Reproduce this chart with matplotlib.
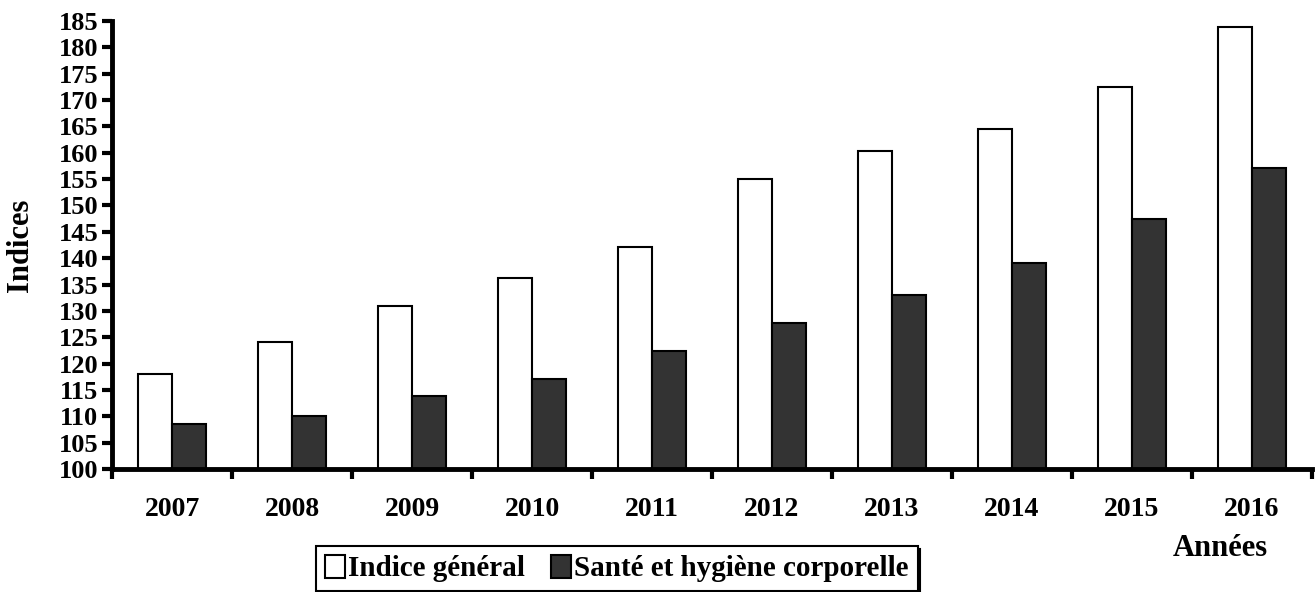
import numpy as np
import matplotlib
matplotlib.use('Agg')
import matplotlib.pyplot as plt

years = ['2007', '2008', '2009', '2010', '2011', '2012', '2013', '2014', '2015', '2016']
indice_general = [118.1, 124.0, 130.9, 136.3, 142.1, 155.0, 160.3, 164.6, 172.5, 183.8]
sante_hygiene = [108.5, 110.1, 113.8, 117.0, 122.4, 127.7, 133.1, 139.0, 147.5, 157.2]
y_ticks = list(range(100, 190, 5))

plt.rcParams['font.family'] = ['Liberation Serif', 'DejaVu Serif']
plt.rcParams['font.weight'] = 'bold'

fig = plt.figure(figsize=(13.15, 5.92), dpi=100)
ax = fig.add_axes([0.0852, 0.2078, 0.9125, 0.7567])

x = np.arange(len(years)) + 0.5
w = 0.283
ax.bar(x - w / 2, np.array(indice_general) - 100, w, bottom=100,
       color='white', edgecolor='black', linewidth=1.5, label='Indice général')
ax.bar(x + w / 2, np.array(sante_hygiene) - 100, w, bottom=100,
       color='#333333', edgecolor='black', linewidth=1.5,
       label='Santé et hygiène corporelle')

ax.set_xlim(0, len(years))
ax.set_ylim(100, 185)
ax.set_yticks(y_ticks)
ax.set_yticklabels([str(v) for v in y_ticks], fontsize=19, fontweight='bold')

# tick marks at group boundaries, labels at group centres
ax.set_xticks(np.arange(len(years) + 1))
ax.set_xticklabels([])
ax.set_xticks(x, minor=True)
ax.set_xticklabels(years, minor=True, fontsize=20, fontweight='bold')
ax.tick_params(axis='x', which='minor', length=0, pad=20)
ax.tick_params(axis='x', which='major', length=7, width=3, direction='out')
ax.tick_params(axis='y', length=7, width=3, direction='out', pad=3)

for s in ['top', 'right']:
    ax.spines[s].set_visible(False)
for s in ['left', 'bottom']:
    ax.spines[s].set_linewidth(3.5)

fig.text(0.0155, 0.585, 'Indices', fontsize=22, fontweight='bold',
         rotation=90, ha='center', va='center')
fig.text(0.928, 0.074, 'Années', fontsize=22, fontweight='bold', ha='center', va='center')

leg = fig.legend(loc='upper center', bbox_to_anchor=(0.469, 0.078), ncol=2,
                 frameon=True, fancybox=False, shadow={'color': 'black', 'alpha': 1},
                 prop={'size': 21, 'weight': 'bold'}, handlelength=0.7,
                 handleheight=0.85, handletextpad=0.1, columnspacing=0.9,
                 borderpad=0.3, borderaxespad=0)
leg.get_frame().set_edgecolor('black')
leg.get_frame().set_linewidth(1.5)

fig.savefig('out.png', dpi=100)
